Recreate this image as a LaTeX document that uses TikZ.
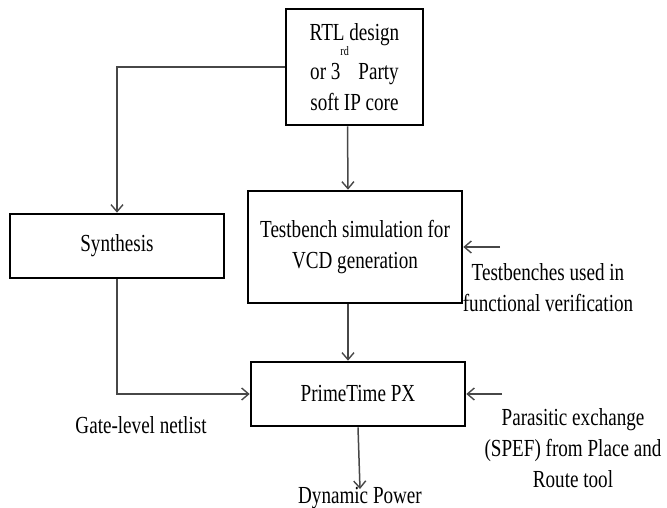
\documentclass[tikz,border=0pt]{standalone}
\usepackage{fontspec}
\setmainfont{Liberation Serif}[FakeStretch=0.78]
\usetikzlibrary{arrows.meta}
\begin{document}
\begin{tikzpicture}[x=1pt,y=-1pt,
  box/.style={draw=black,line width=2.6pt,minimum width=#1,inner sep=0pt},
  arr/.style={draw=black!72,line width=1.5pt,-{Straight Barb[length=7pt,width=12pt,line width=1.4pt]}},
  txt/.style={align=center,font=\fontsize{24.5}{31}\selectfont,inner sep=0pt}]
\useasboundingbox (0,0) rectangle (667,508);
\node[box=137pt,minimum height=116pt,txt] (rtl) at (354.5,67) {RTL design\\or 3\raisebox{2.1ex}{\fontsize{13}{13}\selectfont rd}\ \ Party\\soft IP core};
\node[box=214pt,minimum height=64pt,txt] (syn) at (117,246) {Synthesis};
\node[box=214pt,minimum height=112pt,txt] (tb) at (355,247) {Testbench simulation for\\VCD generation};
\node[box=214pt,minimum height=64pt,txt] (pt) at (358,394) {PrimeTime PX};
\node[txt] (tbl) at (548,288) {Testbenches used in\\functional verification};
\node[txt] (par) at (573,448) {Parasitic exchange\\(SPEF) from Place and\\Route tool};
\node[txt] (gate) at (141,425) {Gate-level netlist};
\node[txt] (dyn) at (360,498) {Dynamic Power};
\coordinate (tbin) at (500,247);
\coordinate (parin) at (502,394);
\draw[arr] (rtl.west) -| (syn.north);
\draw[arr] ([xshift=-7pt]rtl.south) -- ([xshift=-7pt]tb.north);
\draw[arr] ([xshift=-7pt]tb.south) -- ([xshift=-10pt]pt.north);
\draw[arr] (syn.south) |- (pt.west);
\draw[arr] (tbin) -- (tb.east);
\draw[arr] (parin) -- (pt.east);
\draw[arr] (pt.south) -- ([yshift=-2pt]dyn.north);
\end{tikzpicture}
\end{document}
